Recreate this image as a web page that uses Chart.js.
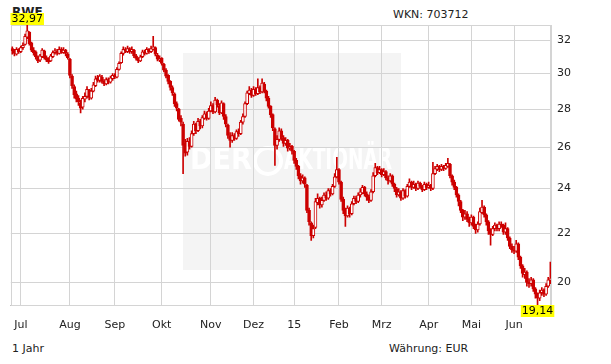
<!DOCTYPE html>
<html>
<head>
<meta charset="utf-8">
<script src="https://cdn.jsdelivr.net/npm/chart.js@4.4.1/dist/chart.umd.min.js"></script>
<style>
  body { margin:0; background:#fff; }
  #wrap { position:relative; width:611px; height:364px; font-family:'DejaVu Sans', Verdana, sans-serif; font-size:11px; color:#222; }
  #wrap div.t { position:absolute; white-space:nowrap; line-height:13px; }
  canvas { position:absolute; left:0; top:0; }
</style>
</head>
<body>
<div id="wrap">
  <div class="t" style="left:12px;top:6px;font-weight:bold;font-size:12px;">RWE</div>
  <div class="t" style="left:393px;top:8px;">WKN: 703712</div>
  <div class="t" style="left:12px;top:342px;">1 Jahr</div>
  <div class="t" style="left:389px;top:342px;">Währung: EUR</div>
  <canvas id="chart" width="611" height="364"></canvas>
</div>
<script>
// RWE, 1 Jahr, Tageskerzen (Eröffnung / Hoch / Tief / Schluss)
const opens = [
  31.50,31.35,31.15,31.45,31.30,31.55,31.75,32.20,32.50,31.85,
  31.40,31.30,31.00,30.80,31.00,31.35,30.95,30.85,30.75,31.00,
  31.25,31.35,31.20,31.45,31.25,31.40,31.15,30.85,29.85,29.25,
  28.85,28.60,28.35,28.10,28.55,28.70,29.05,28.60,29.00,29.30,
  29.75,29.60,29.80,29.55,29.40,29.65,29.50,29.70,29.90,29.80,
  30.25,30.65,31.20,31.45,31.30,31.50,31.30,31.40,31.05,30.90,
  30.75,31.00,31.30,31.20,31.45,31.30,31.45,31.55,31.10,30.80,
  30.90,30.55,30.20,29.90,29.55,29.20,28.85,28.30,28.00,27.50,
  27.20,26.20,25.75,26.30,26.05,26.70,27.20,26.85,27.35,27.10,
  27.50,27.75,27.50,27.90,28.20,27.85,28.50,28.20,27.80,28.30,
  27.60,27.15,26.60,26.35,26.60,26.45,26.80,26.70,27.30,27.60,
  28.30,28.85,29.05,28.75,29.10,28.85,29.20,28.95,29.40,29.00,
  28.60,28.15,27.70,26.95,26.10,26.40,26.85,26.50,26.20,26.35,
  25.95,26.05,25.80,25.35,25.05,24.60,24.35,24.50,24.15,23.00,
  22.45,21.90,22.25,23.35,23.55,23.25,23.45,23.70,23.55,23.90,
  23.75,24.10,24.55,24.90,24.30,23.50,23.00,22.75,23.10,22.85,
  23.30,23.55,23.40,23.70,23.80,24.05,23.75,23.60,23.45,23.85,
  24.60,25.00,24.75,24.90,24.65,24.80,24.50,24.35,24.60,24.20,
  24.00,23.70,23.85,23.55,23.90,23.65,24.10,24.30,24.05,24.20,
  24.00,24.25,24.10,23.95,24.20,24.05,24.15,24.00,24.70,24.90,
  25.05,24.90,25.05,24.95,25.05,25.15,24.60,24.30,24.05,23.70,
  23.40,23.00,22.70,22.85,22.60,22.45,22.70,22.30,22.15,22.40,
  22.90,23.15,22.80,22.50,22.10,21.95,22.20,22.35,22.20,22.40,
  22.35,22.05,22.20,21.80,21.45,21.30,21.25,21.55,21.00,20.65,
  20.30,20.40,20.00,19.95,20.10,19.75,19.55,19.40,19.60,19.70,
  19.55,19.85,20.10
];
const highs = [
  31.60,31.45,31.55,31.50,31.65,31.85,32.40,32.97,32.55,31.90,
  31.55,31.35,31.05,31.15,31.50,31.40,31.05,30.95,31.15,31.35,
  31.50,31.45,31.60,31.55,31.55,31.45,31.25,30.90,29.95,29.35,
  29.00,28.75,28.50,28.70,28.90,29.25,29.10,29.15,29.50,29.85,
  29.90,29.95,29.90,29.65,29.75,29.75,29.85,30.00,30.00,30.35,
  30.70,31.30,31.60,31.55,31.65,31.55,31.60,31.45,31.15,30.95,
  31.10,31.40,31.40,31.55,31.50,31.65,32.25,31.60,31.20,31.05,
  30.95,30.60,30.30,29.95,29.60,29.30,28.90,28.40,28.05,27.65,
  27.30,26.40,26.45,26.50,26.85,27.35,27.25,27.50,27.45,27.65,
  27.90,27.85,28.05,28.40,28.30,28.65,28.55,28.30,28.45,28.35,
  27.70,27.20,26.75,26.75,26.70,26.90,26.95,27.40,27.75,28.40,
  29.00,29.25,29.15,29.25,29.20,29.70,29.30,29.70,29.50,29.05,
  28.70,28.20,27.75,27.00,26.60,27.00,26.95,26.60,26.50,26.40,
  26.20,26.10,25.85,25.45,25.10,24.70,24.65,24.55,24.20,23.10,
  22.50,22.35,23.55,23.75,23.60,23.60,23.80,23.85,24.00,24.00,
  24.20,24.70,25.50,24.95,24.35,23.60,23.10,23.20,23.15,23.40,
  23.65,23.65,23.80,24.00,24.15,24.10,23.85,23.70,23.95,24.75,
  25.20,25.05,25.05,24.95,24.95,24.85,24.60,24.70,24.65,24.25,
  24.05,24.00,23.90,24.00,23.95,24.20,24.45,24.35,24.35,24.25,
  24.35,24.30,24.15,24.30,24.25,24.30,24.20,25.25,25.05,25.15,
  25.10,25.15,25.10,25.20,25.45,25.20,24.65,24.40,24.10,23.75,
  23.45,23.05,23.00,22.95,22.70,22.80,22.75,22.40,22.50,23.10,
  23.45,23.20,22.85,22.55,22.20,22.30,22.45,22.40,22.50,22.50,
  22.40,22.45,22.25,21.85,21.55,21.45,21.70,21.60,21.05,20.70,
  20.55,20.45,20.15,20.20,20.15,19.80,19.60,19.70,19.80,19.75,
  19.95,20.20,20.80
];
const lows = [
  31.15,31.05,31.10,31.20,31.25,31.45,31.70,32.10,31.70,31.30,
  31.10,30.85,30.65,30.70,30.95,30.85,30.70,30.60,30.70,30.95,
  31.15,31.10,31.15,31.20,31.20,31.05,30.85,29.75,29.15,28.60,
  28.40,28.20,27.80,28.00,28.40,28.60,28.50,28.55,28.95,29.25,
  29.50,29.50,29.45,29.30,29.35,29.40,29.45,29.60,29.70,29.75,
  30.20,30.60,31.10,31.25,31.25,31.20,31.20,30.95,30.80,30.65,
  30.70,30.95,31.10,31.15,31.20,31.25,31.40,31.05,30.75,30.70,
  30.50,30.10,29.75,29.40,29.05,28.75,28.15,27.90,27.35,27.10,
  24.70,25.55,25.60,25.90,26.00,26.60,26.70,26.80,26.95,27.00,
  27.45,27.40,27.45,27.85,27.75,27.80,28.10,27.70,27.75,27.45,
  27.05,26.45,26.00,26.25,26.35,26.40,26.55,26.65,27.20,27.55,
  28.25,28.80,28.65,28.70,28.75,28.80,28.85,28.90,28.90,28.45,
  28.05,27.55,26.85,25.10,25.90,26.30,26.35,26.05,26.10,25.80,
  25.85,25.65,25.20,24.90,24.45,24.20,24.25,24.05,22.90,22.35,
  21.70,21.80,22.20,23.25,23.10,23.15,23.40,23.45,23.50,23.65,
  23.70,24.05,24.50,24.20,23.40,22.85,22.30,22.70,22.70,22.80,
  23.25,23.30,23.35,23.60,23.75,23.65,23.45,23.35,23.40,23.80,
  24.55,24.65,24.70,24.55,24.60,24.40,24.20,24.30,24.10,23.85,
  23.60,23.65,23.45,23.50,23.55,23.60,24.05,23.95,24.00,23.90,
  23.95,24.00,23.85,23.90,23.95,24.00,23.90,23.95,24.65,24.85,
  24.80,24.85,24.85,24.90,25.00,24.50,24.15,23.95,23.60,23.20,
  22.90,22.55,22.60,22.50,22.30,22.35,22.20,22.00,22.05,22.35,
  22.85,22.70,22.35,21.95,21.50,21.90,22.10,22.10,22.10,22.25,
  21.95,21.95,21.70,21.35,21.20,21.15,21.20,20.90,20.55,20.20,
  20.15,19.85,19.80,19.85,19.65,19.40,19.14,19.30,19.50,19.45,
  19.50,19.80,19.95
];
const closes = [
  31.35,31.20,31.45,31.30,31.55,31.70,32.25,32.60,31.80,31.40,
  31.25,31.00,30.75,31.05,31.40,30.95,30.80,30.70,31.05,31.25,
  31.35,31.20,31.45,31.30,31.40,31.20,30.95,29.90,29.30,28.80,
  28.55,28.40,28.05,28.60,28.70,29.10,28.65,29.00,29.35,29.70,
  29.60,29.85,29.55,29.40,29.65,29.50,29.75,29.90,29.80,30.25,
  30.60,31.20,31.45,31.35,31.50,31.30,31.45,31.05,30.90,30.75,
  31.00,31.30,31.20,31.45,31.30,31.50,31.60,31.15,30.85,30.90,
  30.60,30.20,29.85,29.55,29.20,28.90,28.30,28.05,27.45,27.30,
  26.10,25.70,26.30,26.05,26.70,27.20,26.85,27.35,27.10,27.55,
  27.75,27.50,27.90,28.20,27.85,28.50,28.25,27.80,28.35,27.60,
  27.20,26.60,26.35,26.60,26.45,26.80,26.70,27.30,27.60,28.30,
  28.90,29.05,28.75,29.10,28.85,29.20,28.95,29.45,29.00,28.60,
  28.15,27.70,27.00,26.10,26.40,26.85,26.50,26.20,26.35,25.95,
  26.05,25.80,25.35,25.05,24.60,24.35,24.50,24.20,23.00,22.50,
  21.90,22.20,23.40,23.55,23.25,23.45,23.70,23.55,23.90,23.75,
  24.10,24.55,24.90,24.30,23.50,23.00,22.75,23.10,22.85,23.30,
  23.55,23.40,23.70,23.85,24.05,23.75,23.60,23.45,23.85,24.60,
  25.00,24.75,24.90,24.65,24.80,24.50,24.35,24.60,24.20,24.00,
  23.70,23.85,23.55,23.90,23.65,24.10,24.30,24.05,24.20,24.00,
  24.25,24.10,23.95,24.20,24.05,24.15,24.00,24.70,24.95,25.05,
  24.90,25.05,24.95,25.10,25.20,24.60,24.30,24.05,23.70,23.40,
  23.00,22.70,22.85,22.60,22.45,22.70,22.30,22.15,22.40,22.95,
  23.15,22.80,22.50,22.10,21.95,22.20,22.35,22.20,22.40,22.35,
  22.05,22.20,21.80,21.45,21.30,21.25,21.55,21.00,20.65,20.35,
  20.40,20.00,19.95,20.10,19.75,19.55,19.40,19.60,19.70,19.55,
  19.85,20.10,20.15
];

// erster Handelstag je Monat (Index) und Beschriftung
const monthIdx = [4, 27, 48, 70, 93, 113, 132, 153, 173, 195, 215, 235];
const monthLabels = ["Jul","Aug","Sep","Okt","Nov","Dez","15","Feb","Mrz","Apr","Mai","Jun"];
const yTicks = [20, 22, 24, 26, 28, 30, 32];

const RED = "#cc0000";
const GRID = "#d4d4d4";

const bodies = closes.map((c, i) => ({ x: i, y: [opens[i], c] }));
const wicks = closes.map((c, i) => ({ x: i, y: [lows[i], highs[i]] }));
const bodyFill = closes.map((c, i) => c >= opens[i] ? "#ffffff" : RED);

const yMin = Math.min(...lows);
const yMax = Math.max(...highs);

const extras = {
    id: "extras",
    beforeDraw(chart){
        const ctx = chart.ctx;
        ctx.save();
        // Wasserzeichen
        ctx.fillStyle = "#f4f4f4";
        ctx.fillRect(183, 53, 218, 217);
        ctx.fillStyle = "#ffffff";
        ctx.font = "bold 30px 'DejaVu Sans'";
        ctx.textBaseline = "middle";
        ctx.fillText("DER", 190, 161, 62);
        ctx.fillText("AKTIONÄR", 284, 161, 108);
        ctx.beginPath();
        ctx.arc(268, 161, 13, 0, Math.PI * 2);
        ctx.lineWidth = 4;
        ctx.strokeStyle = "#ffffff";
        ctx.stroke();
        ctx.restore();
    },
    beforeDatasetsDraw(chart){
        const { ctx, chartArea: a } = chart;
        ctx.save();
        ctx.strokeStyle = GRID;
        ctx.lineWidth = 1;
        ctx.strokeRect(Math.round(a.left) + 0.5, Math.round(a.top) + 0.5,
                       Math.round(a.right - a.left) - 1, Math.round(a.bottom - a.top));
        ctx.restore();
    },
    afterDraw(chart){
        const ctx = chart.ctx;
        const xs = chart.scales.x;
        const a = chart.chartArea;
        const tag = (val, idx, top) => {
            const txt = val.toFixed(2).replace(".", ",");
            ctx.font = "11px 'DejaVu Sans'";
            const w = ctx.measureText(txt).width + 2;
            const cx = xs.getPixelForValue(idx);
            const left = Math.max(7, Math.min(556 - w, cx - w / 2));
            ctx.fillStyle = "#ffff00";
            ctx.fillRect(left, top, w, 12);
            ctx.fillStyle = "#000";
            ctx.textBaseline = "middle";
            ctx.fillText(txt, left + 1, top + 6.5);
        };
        ctx.save();
        tag(yMax, highs.indexOf(yMax), a.top - 12);
        tag(yMin, lows.indexOf(yMin), a.bottom);
        ctx.restore();
    }
};

Chart.defaults.font.family = "'DejaVu Sans', Verdana, sans-serif";
Chart.defaults.font.size = 11;
Chart.defaults.color = "#222";

new Chart(document.getElementById("chart"), {
    type: "bar",
    data: {
        datasets: [
            {
                data: bodies,
                backgroundColor: bodyFill,
                borderColor: RED,
                borderWidth: 1,
                borderSkipped: false,
                barThickness: 3,
                grouped: false
            },
            {
                data: wicks,
                backgroundColor: RED,
                borderWidth: 0,
                barThickness: 1,
                grouped: false
            }
        ]
    },
    options: {
        responsive: false,
        animation: false,
        events: [],
        layout: { padding: { left: 10, top: 25, right: 0, bottom: 0 } },
        plugins: { legend: { display: false }, tooltip: { enabled: false } },
        scales: {
            x: {
                type: "linear",
                offset: false,
                min: -0.68,
                max: 252.3,
                afterBuildTicks: s => { s.ticks = monthIdx.map(v => ({ value: v })); },
                afterFit: s => { s.height = 59; },
                grid: { color: GRID, drawTicks: false, offset: false },
                border: { color: "#c4c4c4" },
                ticks: {
                    autoSkip: false,
                    maxRotation: 0,
                    padding: 14,
                    callback: v => monthLabels[monthIdx.indexOf(v)]
                }
            },
            y: {
                type: "logarithmic",
                position: "right",
                min: yMin,
                max: yMax,
                afterBuildTicks: s => { s.ticks = yTicks.map(v => ({ value: v })); },
                afterFit: s => { s.width = 60; },
                grid: { color: GRID, drawTicks: false },
                border: { color: GRID },
                ticks: { padding: 6, callback: v => String(v) }
            }
        }
    },
    plugins: [extras]
});
</script>
</body>
</html>
